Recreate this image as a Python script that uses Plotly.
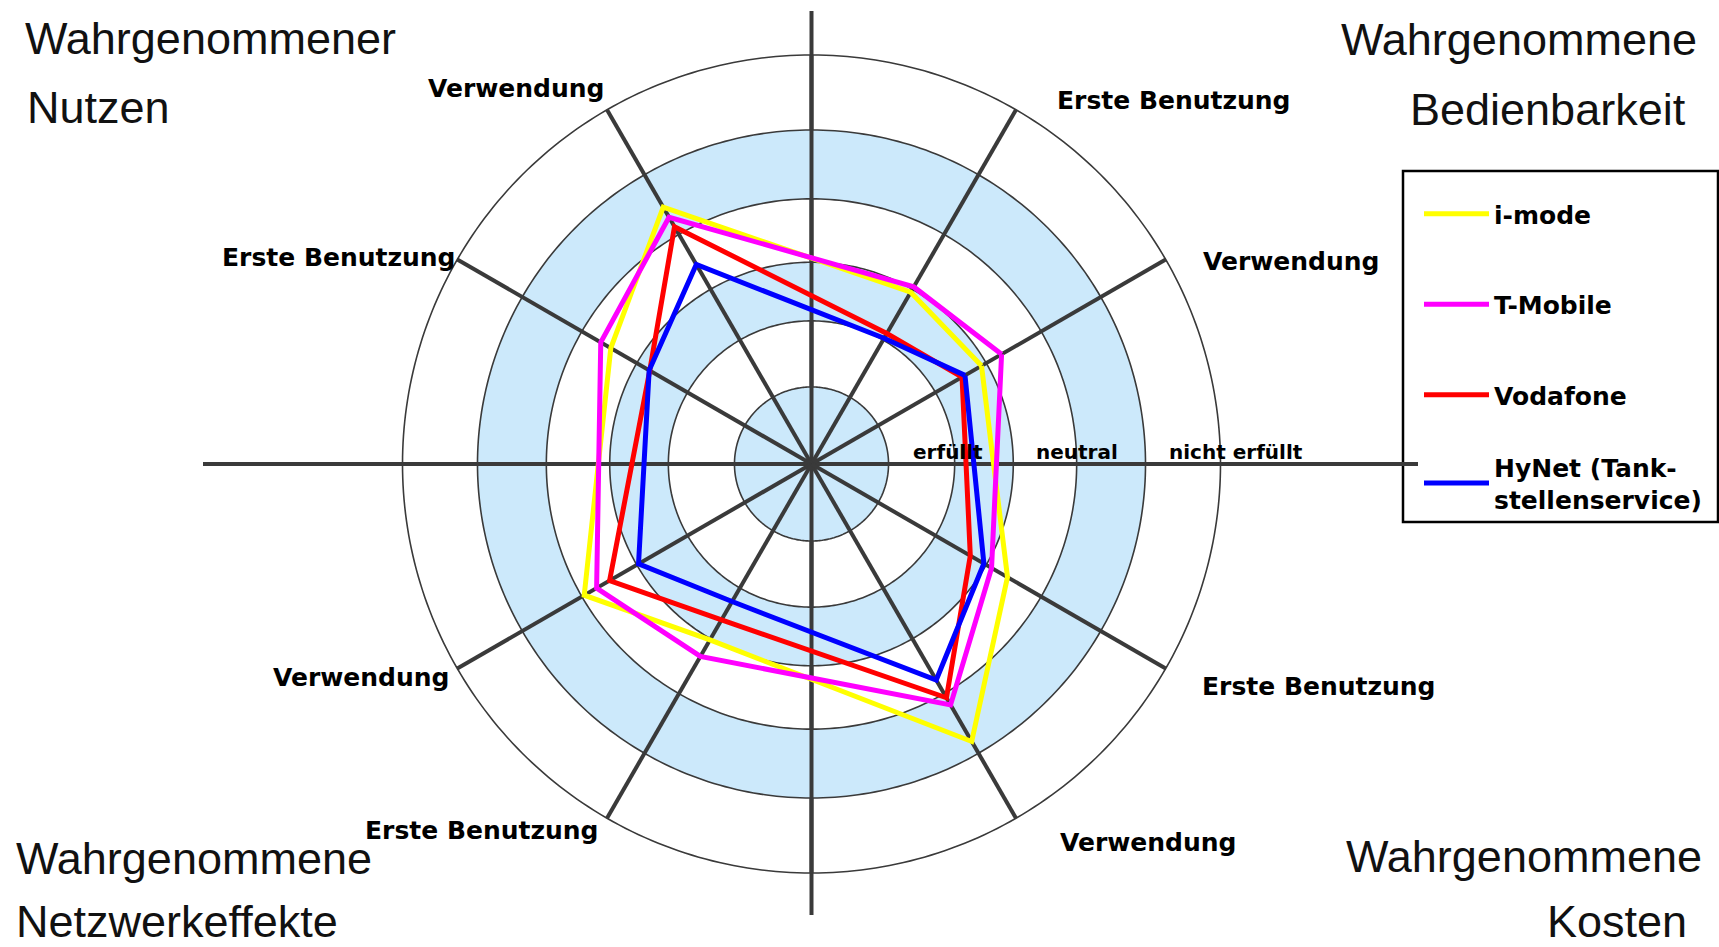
import plotly.graph_objects as go
import numpy as np

# ---------------- data ----------------
angles = [30, 60, 120, 150, 210, 240, 300, 330]
spoke_labels = ["Verwendung", "Erste Benutzung", "Verwendung", "Erste Benutzung",
                "Verwendung", "Erste Benutzung", "Verwendung", "Erste Benutzung"]

series_names = ["i-mode", "T-Mobile", "Vodafone", "HyNet (Tank-<br>stellenservice)"]
imode = [2.88, 2.91, 4.35, 3.40, 3.85, 2.98, 4.70, 3.32]
tmobile = [3.22, 3.00, 4.18, 3.57, 3.64, 3.26, 4.08, 3.05]
vodafone = [2.55, 2.21, 4.02, 2.74, 3.42, 2.64, 3.96, 2.69]
hynet = [2.60, 2.13, 3.38, 2.75, 2.93, 2.33, 3.66, 2.92]
series_values = [imode, tmobile, vodafone, hynet]
series_colors = ["#ffff00", "#ff00ff", "#ff0000", "#0000ff"]
series_legends = ["legend", "legend", "legend", "legend2"]

ring_radii = [1.13, 2.10, 2.96, 3.89, 4.90, 6.00]
band_bounds = [(0.0, 1.13), (2.10, 2.96), (3.89, 4.90)]
scale_labels = ["erfüllt", "neutral", "nicht erfüllt"]
spoke_angles = list(range(0, 360, 30))

W, H = 1719, 947
CX, CY = 811.5, 464.0
PX_PER_UNIT = 409 / 6.0
RMAX = 6.1
R_PX = RMAX * PX_PER_UNIT

GRID = "#3a3a3a"
BAND = "#cce9fb"
BOLD = "DejaVu Sans"
REG = "Liberation Sans, Arial, sans-serif"

fig = go.Figure()

# shaded rings
for lo, hi in band_bounds:
    th = [a + 15 for a in spoke_angles]
    fig.add_trace(go.Barpolar(
        theta=th, r=[hi - lo] * len(th), base=[lo] * len(th), width=[30] * len(th),
        marker=dict(color=BAND, line=dict(width=0)),
        showlegend=False, hoverinfo="skip"))

# circles
ct, cr = [], []
circ = list(np.linspace(0, 360, 361))
for rr in ring_radii:
    ct += circ + [None]
    cr += [rr] * len(circ) + [None]
fig.add_trace(go.Scatterpolar(theta=ct, r=cr, mode="lines",
                              line=dict(color=GRID, width=1.6),
                              showlegend=False, hoverinfo="skip"))

# spokes
st, sr = [], []
for a in spoke_angles:
    st += [a, a, None]
    sr += [0, ring_radii[-1], None]
fig.add_trace(go.Scatterpolar(theta=st, r=sr, mode="lines",
                              line=dict(color=GRID, width=4),
                              showlegend=False, hoverinfo="skip"))

# series
for name, vals, col, lg in zip(series_names, series_values, series_colors, series_legends):
    fig.add_trace(go.Scatterpolar(
        theta=angles + [angles[0]], r=vals + [vals[0]], mode="lines",
        line=dict(color=col, width=5), name=name, legendgroup=name, legend=lg))

# ---------------- layout ----------------
def px(x):
    return x / W

def py(y):
    return 1 - y / H

legend_font = dict(family=BOLD, size=25, color="black", weight="bold")
fig.update_layout(
    width=W, height=H, margin=dict(l=0, r=0, t=0, b=0),
    paper_bgcolor="white", plot_bgcolor="white",
    polar=dict(
        domain=dict(x=[px(CX - R_PX), px(CX + R_PX)], y=[py(CY + R_PX), py(CY - R_PX)]),
        bgcolor="rgba(0,0,0,0)",
        radialaxis=dict(visible=False, range=[0, RMAX]),
        angularaxis=dict(visible=False, direction="counterclockwise", rotation=0),
    ),
    showlegend=True,
    legend=dict(x=px(1419), y=py(191), xanchor="left", yanchor="top",
                font=legend_font, bgcolor="rgba(0,0,0,0)", borderwidth=0,
                tracegroupgap=55, itemwidth=65, traceorder="grouped"),
    legend2=dict(x=px(1419), y=py(444), xanchor="left", yanchor="top",
                 font=legend_font, bgcolor="rgba(0,0,0,0)", borderwidth=0,
                 itemwidth=65),
)

shapes = [
    dict(type="rect", xref="paper", yref="paper", x0=px(1403), x1=px(1718), y0=py(522), y1=py(171),
         line=dict(color="black", width=2.5), fillcolor="white", layer="below"),
    dict(type="line", xref="paper", yref="paper", x0=px(203), x1=px(1418), y0=py(CY), y1=py(CY),
         line=dict(color=GRID, width=4), layer="below"),
    dict(type="line", xref="paper", yref="paper", x0=px(CX), x1=px(CX), y0=py(11), y1=py(915),
         line=dict(color=GRID, width=4), layer="below"),
]
fig.update_layout(shapes=shapes)

ann = []
spoke_label_pos = {30: (1201, 261.5, "left"), 60: (1055, 100.5, "left"),
                   120: (607, 88, "right"), 150: (458, 257.5, "right"),
                   210: (452, 677.5, "right"), 240: (601, 830.5, "right"),
                   300: (1058, 842, "left"), 330: (1200, 686.5, "left")}
for a, lab in zip(angles, spoke_labels):
    x, y, anc = spoke_label_pos[a]
    ann.append(dict(x=px(x), y=py(y), xref="paper", yref="paper", text=lab, showarrow=False,
                    xanchor=anc, yanchor="middle",
                    font=dict(family=BOLD, size=25, color="black", weight="bold")))

scale_pos = [948, 1076.7, 1236]
for lab, x in zip(scale_labels, scale_pos):
    ann.append(dict(x=px(x), y=py(451.6), xref="paper", yref="paper", text=lab, showarrow=False,
                    xanchor="center", yanchor="middle",
                    font=dict(family=BOLD, size=20, color="black", weight="bold")))

titles = [("Wahrgenommener", 23, 38.1, "left"), ("Nutzen", 25, 107.8, "left"),
          ("Wahrgenommene", 1699, 39.8, "right"), ("Bedienbarkeit", 1688, 109.8, "right"),
          ("Wahrgenommene", 14, 858, "left"), ("Netzwerkeffekte", 14, 921.5, "left"),
          ("Wahrgenommene", 1704, 856.5, "right"), ("Kosten", 1689, 921.5, "right")]
for t, x, y, anc in titles:
    ann.append(dict(x=px(x), y=py(y), xref="paper", yref="paper", text=t, showarrow=False,
                    xanchor=anc, yanchor="middle",
                    font=dict(family=REG, size=45, color="#111111")))
fig.update_layout(annotations=ann)

fig.write_html("out.html", config={"displayModeBar": False},
               post_script="document.body.style.margin='0';document.body.style.overflow='hidden';")
